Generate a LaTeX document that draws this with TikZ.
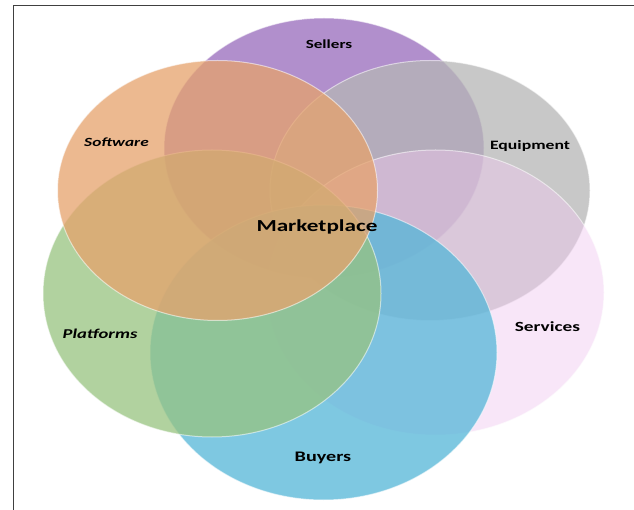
\documentclass[tikz,border=0pt]{standalone}
\usepackage{fontspec}
\setmainfont{Carlito}
\usetikzlibrary{shapes.geometric}
\definecolor{cSel}{RGB}{152,106,188}
\definecolor{cSof}{RGB}{230,162,108}
\definecolor{cEqu}{RGB}{182,182,182}
\definecolor{cPla}{RGB}{151,195,128}
\definecolor{cSer}{RGB}{240,200,240}
\definecolor{cBuy}{RGB}{84,182,216}
\newcommand\vennlabel[2]{\fontsize{#1}{#1}\selectfont\scalebox{1.38}[1]{#2}}
\begin{document}
\begin{tikzpicture}[x=1pt,y=-1pt,
  venn/.style={ellipse, inner sep=0pt, outer sep=0pt, draw=white, draw opacity=0.55, line width=1pt, fill opacity=0.75},
  small/.style={minimum width=320pt, minimum height=260pt},
  lbl/.style={anchor=base, inner sep=0pt, text=black}]
\useasboundingbox (0,0) rectangle (634,510);
\fill[white] (0,0) rectangle (634,510);
% ellipses
\node[venn, small, fill=cSel] (sellers) at (324,148) {};
\node[venn, small, fill=cEqu] (equipment) at (430,190.5) {};
\node[venn, fill=cSer, fill opacity=0.45, minimum width=337pt, minimum height=285pt] (services) at (435.5,292.5) {};
\node[venn, fill=cBuy, minimum width=347pt, minimum height=295pt] (buyers) at (323.5,352.5) {};
\node[venn, fill=cPla, minimum width=338pt, minimum height=287pt] (platforms) at (212,293.5) {};
\node[venn, small, fill=cSof] (software) at (217.5,190.5) {};
% frame
\draw[black!75, line width=1pt] (13,510) -- (13,6) -- (634,6);
% labels
\node[lbl] (tsellers) at (329,49) {\vennlabel{12.4}{\bfseries Sellers}};
\node[lbl] (tsoftware) at (116.5,147) {\vennlabel{12.5}{\bfseries\itshape Software}};
\node[lbl] (tequipment) at (530,150) {\vennlabel{12.8}{\bfseries Equipment}};
\node[lbl] (tmarket) at (317,232) {\vennlabel{16.8}{\bfseries Marketplace}};
\node[lbl] (tplatforms) at (100,338) {\vennlabel{13.5}{\bfseries\itshape Platforms}};
\node[lbl] (tservices) at (547.5,331) {\vennlabel{14}{\bfseries Services}};
\node[lbl] (tbuyers) at (323,461) {\vennlabel{14.6}{\bfseries Buyers}};
\end{tikzpicture}
\end{document}
